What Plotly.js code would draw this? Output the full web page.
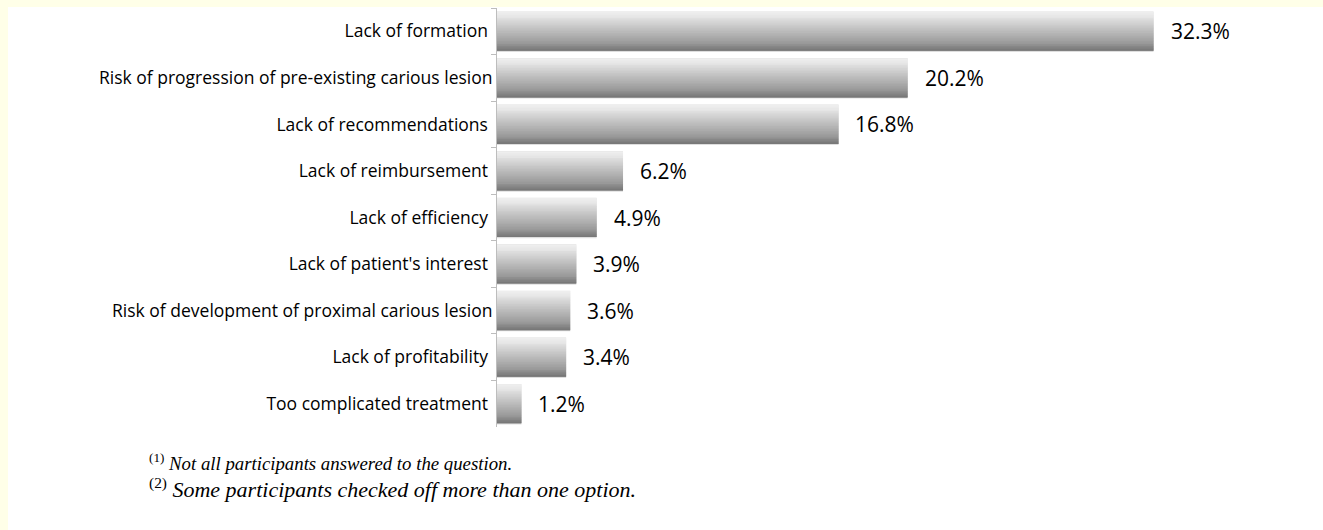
<!DOCTYPE html>
<html>
<head>
<meta charset="utf-8">
<script src="https://cdn.plot.ly/plotly-3.0.1.min.js"></script>
<style>
  html, body { margin: 0; padding: 0; background: #FFFFE8; width: 1323px; height: 530px; overflow: hidden; }
  #chart { position: absolute; left: 8px; top: 7px; width: 1315px; height: 523px; background: #ffffff; }
</style>
</head>
<body>
<div id="chart"></div>
<script>
// ---- data ----
const categories = [
  "Lack of formation ",
  "Risk of progression of pre-existing carious lesion",
  "Lack of recommendations ",
  "Lack of reimbursement ",
  "Lack of efficiency ",
  "Lack of patient's interest ",
  "Risk of development of proximal carious lesion",
  "Lack of profitability ",
  "Too complicated treatment "
];
const values = [32.3, 20.2, 16.8, 6.2, 4.9, 3.9, 3.6, 3.4, 1.2];
const valueLabels = ["32.3%", "20.2%", "16.8%", "6.2%", "4.9%", "3.9%", "3.6%", "3.4%", "1.2%"];
const footnotes = [
  "<sup>(1)</sup> <i>Not all participants answered to the question.</i>",
  "<sup>(2)</sup> <i>Some participants checked off more than one option.</i>"
];

// ---- styling: gradient approximated by stacked horizontal bands ----
function lerp(a, b, t) { return Math.round(a + (b - a) * t); }
const nBands = 24;
const bandColors = [];
for (let i = 0; i < nBands; i++) {
  const t = i / (nBands - 1);
  let g;
  if (t < 0.15) g = lerp(238, 228, t / 0.15);
  else if (t < 0.85) g = lerp(224, 150, (t - 0.15) / 0.7);
  else g = lerp(146, 120, (t - 0.85) / 0.15);
  bandColors.push(`rgb(${g},${g},${g})`);
}
const barWidth = 0.84;
const bandW = barWidth / nBands;

const traces = [];
// soft shadow
traces.push({
  type: "bar", orientation: "h", x: values, y: categories,
  width: barWidth + 0.03, offset: -barWidth / 2 - 0.005,
  marker: { color: "rgba(160,160,160,0.35)", line: { width: 0 } },
  hoverinfo: "skip", showlegend: false
});
bandColors.forEach((c, i) => {
  const last = i === nBands - 1;
  traces.push({
    type: "bar", orientation: "h", x: values, y: categories,
    width: last ? bandW : bandW * 2, offset: -barWidth / 2 + i * bandW,
    marker: { color: c, line: { width: 0 } },
    hoverinfo: "skip", showlegend: false
  });
});

const annotations = values.map((v, i) => ({
  x: v, y: categories[i], xref: "x", yref: "y",
  text: valueLabels[i], showarrow: false,
  xanchor: "left", yanchor: "middle", xshift: 15,
  font: { family: "Open Sans, sans-serif", size: 21, color: "#000000" }
}));
const footY = [-0.0835, -0.1456];
const footSize = [18.8, 22];
footnotes.forEach((t, i) => {
  annotations.push({
    xref: "paper", yref: "paper",
    x: -0.4305, y: footY[i],
    xanchor: "left", yanchor: "middle",
    text: t, showarrow: false, align: "left",
    font: { family: "Liberation Serif, Times New Roman, serif", size: footSize[i], color: "#000000" }
  });
});

const layout = {
  width: 1315, height: 523,
  margin: { l: 489, r: 13, t: 1, b: 103 },
  paper_bgcolor: "#ffffff", plot_bgcolor: "#ffffff",
  barmode: "overlay",
  showlegend: false,
  xaxis: { range: [0, 40], visible: false, fixedrange: true },
  yaxis: {
    type: "category", autorange: "reversed",
    showline: true, linecolor: "#bdbdbd", linewidth: 1,
    ticks: "outside", ticklen: 5, tickcolor: "#bdbdbd", tickson: "boundaries",
    showgrid: false, zeroline: false,
    tickfont: { family: "Open Sans, sans-serif", size: 17.5, color: "#000000" }
  },
  annotations: annotations
};

Plotly.newPlot("chart", traces, layout, { displayModeBar: false, staticPlot: true });
</script>
</body>
</html>
